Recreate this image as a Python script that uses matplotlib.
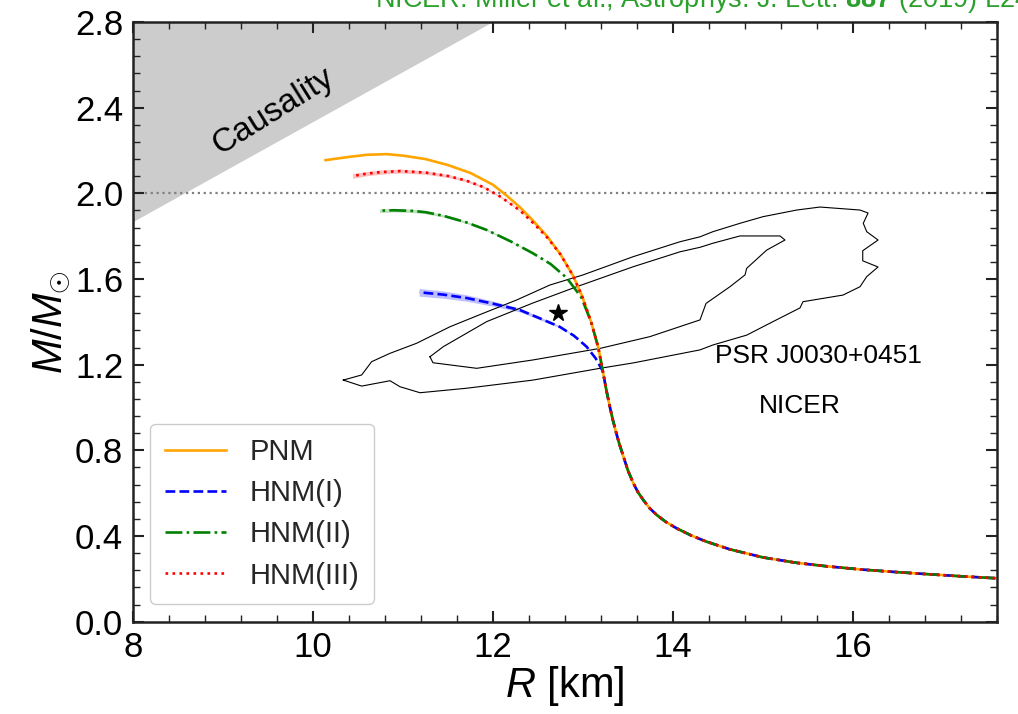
import numpy as np
import matplotlib
matplotlib.use('Agg')
import matplotlib.pyplot as plt

plt.rcParams['font.family'] = ['Liberation Sans', 'DejaVu Sans']
plt.rcParams['mathtext.fontset'] = 'custom'
plt.rcParams['mathtext.rm'] = 'Liberation Sans'
plt.rcParams['mathtext.it'] = 'Liberation Sans:italic'
plt.rcParams['mathtext.bf'] = 'Liberation Sans:bold'

# common low-mass tail shared by all EoS (R in km, M in Msun)
tail_R = [17.58, 17.2, 16.86, 16.5, 16.11, 15.7, 15.37, 15.0, 14.63, 14.37, 14.2, 14.04,
          13.92, 13.82, 13.74, 13.67, 13.61, 13.56, 13.50, 13.45, 13.40, 13.37, 13.33,
          13.30, 13.26, 13.22]
tail_M = [0.203, 0.212, 0.221, 0.231, 0.243, 0.259, 0.275, 0.300, 0.338, 0.374, 0.403, 0.436,
          0.466, 0.498, 0.530, 0.568, 0.605, 0.646, 0.705, 0.770, 0.835, 0.880, 0.945,
          1.000, 1.080, 1.170]

# upper branches
pnm_R = [13.17, 13.09, 12.99, 12.89, 12.75, 12.60, 12.44, 12.30, 12.15, 12.00, 11.75, 11.50,
         11.25, 11.00, 10.82, 10.60, 10.40, 10.14]
pnm_M = [1.28, 1.40, 1.52, 1.615, 1.715, 1.80, 1.875, 1.935, 1.99, 2.04, 2.095, 2.132,
         2.160, 2.176, 2.183, 2.180, 2.170, 2.155]

hnm1_R = [13.14, 13.04, 12.90, 12.74, 12.50, 12.30, 12.00, 11.71, 11.45, 11.18]
hnm1_M = [1.23, 1.284, 1.335, 1.377, 1.42, 1.455, 1.485, 1.511, 1.527, 1.538]
hnm1_err = [0, 0, 0.002, 0.004, 0.007, 0.009, 0.012, 0.015, 0.017, 0.018]

hnm2_R = [13.17, 13.09, 12.98, 12.82, 12.64, 12.44, 12.20, 11.93, 11.70, 11.45, 11.25, 11.11,
          10.90, 10.74]
hnm2_M = [1.28, 1.40, 1.515, 1.605, 1.67, 1.721, 1.775, 1.829, 1.865, 1.895, 1.912, 1.918,
          1.921, 1.919]
hnm2_err = [0, 0, 0, 0, 0.001, 0.002, 0.003, 0.004, 0.005, 0.006, 0.007, 0.008, 0.008, 0.009]

hnm3_R = [13.17, 13.09, 12.99, 12.89, 12.75, 12.60, 12.45, 12.30, 12.08, 11.90, 11.70, 11.50,
          11.25, 10.97, 10.75, 10.60, 10.44]
hnm3_M = [1.28, 1.40, 1.52, 1.615, 1.715, 1.795, 1.86, 1.92, 1.985, 2.028, 2.06, 2.081,
          2.097, 2.104, 2.099, 2.092, 2.081]
hnm3_err = [0, 0, 0, 0, 0, 0, 0.002, 0.003, 0.004, 0.005, 0.006, 0.007, 0.008, 0.009, 0.010,
            0.010, 0.011]

# NICER PSR J0030+0451 contours (Miller et al. 2019)
outer_R = [10.337, 10.541, 10.856, 10.967, 11.189, 11.708, 12.444, 13.189, 13.556, 14.300,
           14.444, 14.819, 15.111, 15.411, 15.444, 15.889, 16.078, 16.152, 16.278, 16.108,
           16.108, 16.278, 16.152, 16.114, 16.167, 16.078, 15.633, 15.374, 15.0, 14.744,
           14.444, 14.3, 14.078, 13.556, 13.0, 12.633, 12.263, 11.892, 11.522, 11.152,
           10.856, 10.652, 10.541, 10.337]
outer_M = [1.128, 1.100, 1.125, 1.097, 1.069, 1.090, 1.128, 1.183, 1.208, 1.269,
           1.292, 1.338, 1.401, 1.465, 1.494, 1.525, 1.564, 1.611, 1.656, 1.685,
           1.732, 1.782, 1.821, 1.860, 1.908, 1.922, 1.936, 1.922, 1.891, 1.860,
           1.821, 1.797, 1.774, 1.704, 1.619, 1.572, 1.502, 1.440, 1.377, 1.300,
           1.253, 1.214, 1.152, 1.128]
inner_R = [11.3, 11.333, 11.819, 12.444, 13.189, 13.744, 14.3, 14.367, 14.633, 14.8, 14.819,
           15.041, 15.244, 15.189, 14.744, 14.444, 14.3, 14.078, 13.556, 12.93, 12.444,
           11.93, 11.448, 11.3]
inner_M = [1.237, 1.209, 1.183, 1.222, 1.276, 1.331, 1.409, 1.486, 1.564, 1.619, 1.650,
           1.735, 1.782, 1.801, 1.801, 1.767, 1.748, 1.727, 1.657, 1.564, 1.488,
           1.401, 1.284, 1.237]
star_R, star_M = 12.72, 1.44

labels = ['PNM', 'HNM(I)', 'HNM(II)', 'HNM(III)']
colors = ['orange', 'blue', 'green', 'red']
styles = ['-', '--', '-.', ':']

fig = plt.figure(figsize=(10.18, 7.14), dpi=100)
ax = fig.add_axes([0.1306, 0.1293, 0.8488, 0.8399])

xmin, xmax, ymin, ymax = 8, 17.6, 0.0, 2.8

# causality limit R = 2.9 GM/c^2
Rc = np.array([xmin, xmax])
ax.fill_between(Rc, Rc / (2.9 * 1.4766), ymax, color='#cccccc', lw=0, zorder=0)
ax.text(9.56, 2.38, 'Causality', rotation=32, fontsize=24, ha='center', va='center')

ax.axhline(2.0, color='gray', ls=':', lw=1.6, zorder=1)

ax.plot(outer_R, outer_M, color='black', lw=0.8)
ax.plot(inner_R, inner_M, color='black', lw=0.8)
ax.plot(star_R, star_M, marker='*', color='black', ms=13, ls='none')

branches = [(pnm_R, pnm_M, None), (hnm1_R, hnm1_M, hnm1_err),
            (hnm2_R, hnm2_M, hnm2_err), (hnm3_R, hnm3_M, hnm3_err)]
for (bR, bM, err), lab, c, s in zip(branches, labels, colors, styles):
    if err is not None:
        m = np.array(bM)
        e = np.array(err)
        ax.fill_between(bR, m - e, m + e, color=c, alpha=0.25, lw=0)
    ax.plot(tail_R + bR, tail_M + bM, color=c, ls=s, lw=1.9, label=lab)

ax.text(15.62, 1.24, 'PSR J0030+0451', fontsize=19, ha='center', va='center')
ax.text(15.41, 1.005, 'NICER', fontsize=19, ha='center', va='center')

fig.text(375 / 1018, 0.990, r'NICER: Miller et al., Astrophys. J. Lett. $\mathbf{887}$ (2019) L24',
         color='#2ca02c', fontsize=19.5, ha='left', va='baseline')

ax.set_xlim(xmin, xmax)
ax.set_ylim(ymin, ymax)
ax.set_xticks([8, 10, 12, 14, 16])
ax.set_yticks(np.arange(0, 2.81, 0.4))
ax.set_xticks(np.arange(8, 17.61, 0.4), minor=True)
ax.set_yticks(np.arange(0, 2.81, 0.08), minor=True)
ax.yaxis.set_major_formatter(matplotlib.ticker.FormatStrFormatter('%.1f'))
ax.tick_params(which='both', direction='in', top=True, right=True, labelsize=25,
               color='#222222', pad=7)
ax.tick_params(which='major', length=8, width=1.5)
ax.tick_params(which='minor', length=5, width=1.0)
for sp in ax.spines.values():
    sp.set_linewidth(1.8)
    sp.set_color('#222222')

ax.set_xlabel(r'$R$ [km]', fontsize=30, labelpad=0)
ax.set_ylabel(r'$M/M_{\odot}$', fontsize=30, labelpad=2)

leg = ax.legend(loc='lower left', fontsize=21, handlelength=2.1, handletextpad=0.8,
                borderaxespad=0.6, labelspacing=0.45, fancybox=True, framealpha=1,
                borderpad=0.5)
leg.get_frame().set_edgecolor('#cccccc')
for t in leg.get_texts():
    t.set_color('#262626')

fig.savefig('out.png', dpi=100)
